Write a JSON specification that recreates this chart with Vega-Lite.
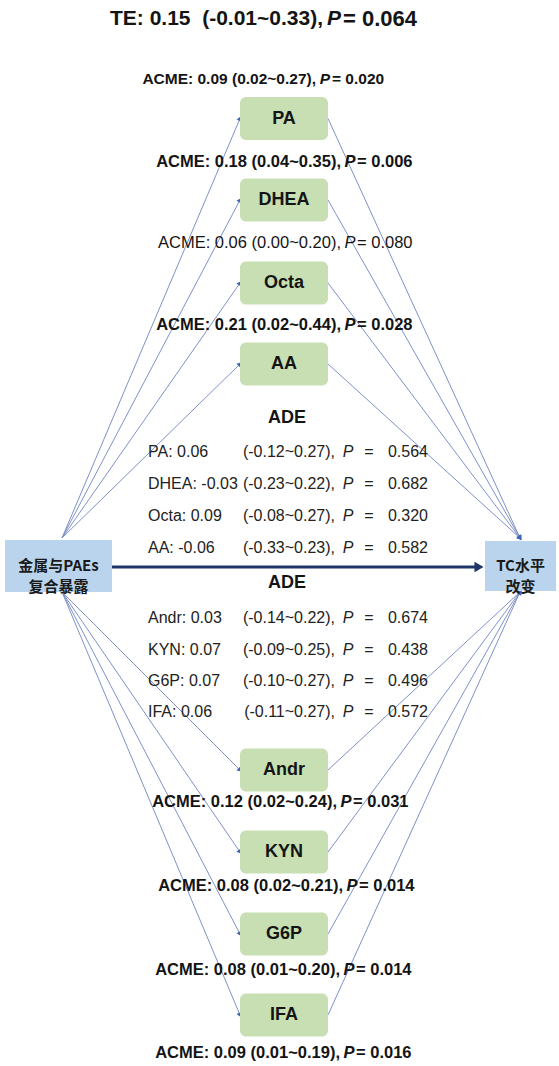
{
  "$schema": "https://vega.github.io/schema/vega-lite/v6.json",
  "width": 559,
  "height": 1066,
  "padding": 0,
  "autosize": {"type": "none"},
  "background": "white",
  "config": {"view": {"stroke": null}, "font": "Liberation Sans", "text": {"color": "#141414"}},
  "datasets": {
    "mediators": [
      {"name": "PA", "group": "upper", "y": 118.5, "acme": "0.09", "acmeCI": "(0.02~0.27)", "acmeP": "0.020", "ly": 79, "lx": 325, "ade": "0.06", "adeCI": "(-0.12~0.27)", "adeP": "0.564", "ay": 452},
      {"name": "DHEA", "group": "upper", "y": 200, "acme": "0.18", "acmeCI": "(0.04~0.35)", "acmeP": "0.006", "ly": 162, "lx": 350, "ade": "-0.03", "adeCI": "(-0.23~0.22)", "adeP": "0.682", "ay": 484},
      {"name": "Octa", "group": "upper", "y": 283, "acme": "0.06", "acmeCI": "(0.00~0.20)", "acmeP": "0.080", "ly": 243, "lx": 350, "ade": "0.09", "adeCI": "(-0.08~0.27)", "adeP": "0.320", "ay": 516},
      {"name": "AA", "group": "upper", "y": 364, "acme": "0.21", "acmeCI": "(0.02~0.44)", "acmeP": "0.028", "ly": 325, "lx": 350, "ade": "-0.06", "adeCI": "(-0.33~0.23)", "adeP": "0.582", "ay": 548},
      {"name": "Andr", "group": "lower", "y": 770, "acme": "0.12", "acmeCI": "(0.02~0.24)", "acmeP": "0.031", "ly": 802, "lx": 346, "ade": "0.03", "adeCI": "(-0.14~0.22)", "adeP": "0.674", "ay": 618},
      {"name": "KYN", "group": "lower", "y": 852, "acme": "0.08", "acmeCI": "(0.02~0.21)", "acmeP": "0.014", "ly": 886, "lx": 352, "ade": "0.07", "adeCI": "(-0.09~0.25)", "adeP": "0.438", "ay": 650},
      {"name": "G6P", "group": "lower", "y": 934, "acme": "0.08", "acmeCI": "(0.01~0.20)", "acmeP": "0.014", "ly": 970, "lx": 349, "ade": "0.07", "adeCI": "(-0.10~0.27)", "adeP": "0.496", "ay": 681},
      {"name": "IFA", "group": "lower", "y": 1015, "acme": "0.09", "acmeCI": "(0.01~0.19)", "acmeP": "0.016", "ly": 1053, "lx": 349, "ade": "0.06", "adeCI": "(-0.11~0.27)", "adeP": "0.572", "ay": 712}
    ],
    "nodes": [
      {"label": "金属与PAEs\n复合暴露", "x0": 5, "x1": 112, "y0": 540, "y1": 592},
      {"label": "TC水平\n改变", "x0": 485, "x1": 556, "y0": 541, "y1": 591}
    ],
    "total": [{"est": "0.15", "ci": "(-0.01~0.33)", "p": "0.064"}],
    "adeHeads": [{"group": "upper", "y": 418}, {"group": "lower", "y": 583}]
  },
  "layer": [
    {
      "data": {"name": "mediators"},
      "transform": [
        {"calculate": "datum.group === 'upper' ? 538 : 592", "as": "hubY"},
        {"calculate": "62", "as": "srcX"},
        {"calculate": "240", "as": "inX"},
        {"calculate": "328", "as": "outX"},
        {"calculate": "520", "as": "dstX"},
        {"calculate": "atan2(datum.y - datum.hubY, 240 - 62) * 180 / PI", "as": "angIn"},
        {"calculate": "atan2(datum.hubY - datum.y, 520 - 328) * 180 / PI", "as": "angOut"}
      ],
      "layer": [
        {
          "mark": {"type": "rule", "color": "#7f91c8", "strokeWidth": 1},
          "encoding": {
            "x": {"field": "srcX", "type": "quantitative", "scale": {"domain": [0, 559], "nice": false, "zero": false}, "axis": null},
            "y": {"field": "hubY", "type": "quantitative", "scale": {"domain": [0, 1066], "nice": false, "zero": false, "reverse": true}, "axis": null},
            "x2": {"field": "inX"},
            "y2": {"field": "y"}
          }
        },
        {
          "mark": {"type": "rule", "color": "#7f91c8", "strokeWidth": 1},
          "encoding": {
            "x": {"field": "outX", "type": "quantitative", "scale": {"domain": [0, 559], "nice": false, "zero": false}, "axis": null},
            "y": {"field": "y", "type": "quantitative", "scale": {"domain": [0, 1066], "nice": false, "zero": false, "reverse": true}, "axis": null},
            "x2": {"field": "dstX"},
            "y2": {"field": "hubY"}
          }
        },
        {
          "mark": {"type": "point", "shape": "triangle-right", "filled": true, "size": 30, "color": "#3f64b9", "opacity": 1},
          "encoding": {
            "x": {"field": "inX", "type": "quantitative", "scale": {"domain": [0, 559], "nice": false, "zero": false}, "axis": null},
            "y": {"field": "y", "type": "quantitative", "scale": {"domain": [0, 1066], "nice": false, "zero": false, "reverse": true}, "axis": null},
            "angle": {"field": "angIn", "type": "quantitative", "scale": null}
          }
        },
        {
          "mark": {"type": "point", "shape": "triangle-right", "filled": true, "size": 30, "color": "#3f64b9", "opacity": 1},
          "encoding": {
            "x": {"field": "dstX", "type": "quantitative", "scale": {"domain": [0, 559], "nice": false, "zero": false}, "axis": null},
            "y": {"field": "hubY", "type": "quantitative", "scale": {"domain": [0, 1066], "nice": false, "zero": false, "reverse": true}, "axis": null},
            "angle": {"field": "angOut", "type": "quantitative", "scale": null}
          }
        }
      ]
    },
    {
      "data": {"name": "total"},
      "transform": [
        {"calculate": "112", "as": "x0"},
        {"calculate": "476", "as": "x1"},
        {"calculate": "479", "as": "tipX"},
        {"calculate": "567", "as": "ay"},
        {"calculate": "334", "as": "px"},
        {"calculate": "19", "as": "ty"},
        {"calculate": "'TE: ' + datum.est + '\u00a0 ' + datum.ci + ','", "as": "pre"},
        {"calculate": "'= ' + datum.p", "as": "post"}
      ],
      "layer": [
        {
          "mark": {"type": "rule", "color": "#1f3768", "strokeWidth": 3},
          "encoding": {
            "x": {"field": "x0", "type": "quantitative", "scale": {"domain": [0, 559], "nice": false, "zero": false}, "axis": null},
            "y": {"field": "ay", "type": "quantitative", "scale": {"domain": [0, 1066], "nice": false, "zero": false, "reverse": true}, "axis": null},
            "x2": {"field": "x1"}
          }
        },
        {
          "mark": {"type": "point", "shape": "triangle-right", "filled": true, "size": 110, "color": "#1f3768", "opacity": 1},
          "encoding": {
            "x": {"field": "tipX", "type": "quantitative", "scale": {"domain": [0, 559], "nice": false, "zero": false}, "axis": null},
            "y": {"field": "ay", "type": "quantitative", "scale": {"domain": [0, 1066], "nice": false, "zero": false, "reverse": true}, "axis": null}
          }
        },
        {
          "mark": {"type": "text", "align": "right", "baseline": "middle", "dx": -11, "fontSize": 21, "fontWeight": "bold"},
          "encoding": {
            "x": {"field": "px", "type": "quantitative", "scale": {"domain": [0, 559], "nice": false, "zero": false}, "axis": null},
            "y": {"field": "ty", "type": "quantitative", "scale": {"domain": [0, 1066], "nice": false, "zero": false, "reverse": true}, "axis": null},
            "text": {"field": "pre"}
          }
        },
        {
          "mark": {"type": "text", "align": "center", "baseline": "middle", "fontSize": 21, "fontWeight": "bold", "fontStyle": "italic"},
          "encoding": {
            "x": {"field": "px", "type": "quantitative", "scale": {"domain": [0, 559], "nice": false, "zero": false}, "axis": null},
            "y": {"field": "ty", "type": "quantitative", "scale": {"domain": [0, 1066], "nice": false, "zero": false, "reverse": true}, "axis": null},
            "text": {"value": "P"}
          }
        },
        {
          "mark": {"type": "text", "align": "left", "baseline": "middle", "dx": 9, "fontSize": 22, "fontWeight": "bold"},
          "encoding": {
            "x": {"field": "px", "type": "quantitative", "scale": {"domain": [0, 559], "nice": false, "zero": false}, "axis": null},
            "y": {"field": "ty", "type": "quantitative", "scale": {"domain": [0, 1066], "nice": false, "zero": false, "reverse": true}, "axis": null},
            "text": {"field": "post"}
          }
        }
      ]
    },
    {
      "data": {"name": "nodes"},
      "transform": [{"calculate": "(datum.x0 + datum.x1) / 2", "as": "cx"}, {"calculate": "(datum.y0 + datum.y1) / 2", "as": "cy"}],
      "layer": [
        {
          "mark": {"type": "rect", "color": "#b9d4ec"},
          "encoding": {
            "x": {"field": "x0", "type": "quantitative", "scale": {"domain": [0, 559], "nice": false, "zero": false}, "axis": null},
            "x2": {"field": "x1"},
            "y": {"field": "y0", "type": "quantitative", "scale": {"domain": [0, 1066], "nice": false, "zero": false, "reverse": true}, "axis": null},
            "y2": {"field": "y1"}
          }
        },
        {
          "mark": {"type": "text", "align": "center", "baseline": "middle", "fontSize": 15, "fontWeight": "bold", "font": "Noto Sans CJK SC", "lineBreak": "\n", "lineHeight": 21, "color": "#1a1a1a"},
          "encoding": {
            "x": {"field": "cx", "type": "quantitative", "scale": {"domain": [0, 559], "nice": false, "zero": false}, "axis": null},
            "y": {"field": "cy", "type": "quantitative", "scale": {"domain": [0, 1066], "nice": false, "zero": false, "reverse": true}, "axis": null},
            "text": {"field": "label"}
          }
        }
      ]
    },
    {
      "data": {"name": "mediators"},
      "transform": [
        {"calculate": "240", "as": "bx0"},
        {"calculate": "328", "as": "bx1"},
        {"calculate": "284", "as": "bcx"}
      ],
      "layer": [
        {
          "mark": {"type": "rect", "color": "#c7dfb3", "cornerRadius": 6, "yOffset": -21.5, "y2Offset": 21.5},
          "encoding": {
            "x": {"field": "bx0", "type": "quantitative", "scale": {"domain": [0, 559], "nice": false, "zero": false}, "axis": null},
            "x2": {"field": "bx1"},
            "y": {"field": "y", "type": "quantitative", "scale": {"domain": [0, 1066], "nice": false, "zero": false, "reverse": true}, "axis": null},
            "y2": {"field": "y"}
          }
        },
        {
          "mark": {"type": "text", "align": "center", "baseline": "middle", "fontSize": 18, "fontWeight": "bold"},
          "encoding": {
            "x": {"field": "bcx", "type": "quantitative", "scale": {"domain": [0, 559], "nice": false, "zero": false}, "axis": null},
            "y": {"field": "y", "type": "quantitative", "scale": {"domain": [0, 1066], "nice": false, "zero": false, "reverse": true}, "axis": null},
            "text": {"field": "name"}
          }
        }
      ]
    },
    {
      "data": {"name": "mediators"},
      "transform": [
        {"calculate": "'ACME: ' + datum.acme + ' ' + datum.acmeCI + ','", "as": "pre"},
        {"calculate": "'= ' + datum.acmeP", "as": "post"}
      ],
      "layer": [
        {
          "transform": [{"filter": "toNumber(datum.acmeP) < 0.05"}],
          "layer": [
            {
              "mark": {"type": "text", "align": "right", "baseline": "middle", "dx": -9, "fontWeight": "bold"},
              "encoding": {
                "x": {"field": "lx", "type": "quantitative", "scale": {"domain": [0, 559], "nice": false, "zero": false}, "axis": null},
                "y": {"field": "ly", "type": "quantitative", "scale": {"domain": [0, 1066], "nice": false, "zero": false, "reverse": true}, "axis": null},
                "size": {"condition": {"test": "datum.name === 'PA'", "value": 15.5}, "value": 16.5},
                "text": {"field": "pre"}
              }
            },
            {
              "mark": {"type": "text", "align": "center", "baseline": "middle", "fontWeight": "bold", "fontStyle": "italic"},
              "encoding": {
                "x": {"field": "lx", "type": "quantitative", "scale": {"domain": [0, 559], "nice": false, "zero": false}, "axis": null},
                "y": {"field": "ly", "type": "quantitative", "scale": {"domain": [0, 1066], "nice": false, "zero": false, "reverse": true}, "axis": null},
                "size": {"condition": {"test": "datum.name === 'PA'", "value": 15.5}, "value": 16.5},
                "text": {"value": "P"}
              }
            },
            {
              "mark": {"type": "text", "align": "left", "baseline": "middle", "dx": 7, "fontWeight": "bold"},
              "encoding": {
                "x": {"field": "lx", "type": "quantitative", "scale": {"domain": [0, 559], "nice": false, "zero": false}, "axis": null},
                "y": {"field": "ly", "type": "quantitative", "scale": {"domain": [0, 1066], "nice": false, "zero": false, "reverse": true}, "axis": null},
                "size": {"condition": {"test": "datum.name === 'PA'", "value": 15.5}, "value": 16.5},
                "text": {"field": "post"}
              }
            }
          ]
        },
        {
          "transform": [{"filter": "toNumber(datum.acmeP) >= 0.05"}],
          "layer": [
            {
              "mark": {"type": "text", "align": "right", "baseline": "middle", "dx": -9, "fontSize": 16.5},
              "encoding": {
                "x": {"field": "lx", "type": "quantitative", "scale": {"domain": [0, 559], "nice": false, "zero": false}, "axis": null},
                "y": {"field": "ly", "type": "quantitative", "scale": {"domain": [0, 1066], "nice": false, "zero": false, "reverse": true}, "axis": null},
                "text": {"field": "pre"}
              }
            },
            {
              "mark": {"type": "text", "align": "center", "baseline": "middle", "fontSize": 16.5, "fontStyle": "italic"},
              "encoding": {
                "x": {"field": "lx", "type": "quantitative", "scale": {"domain": [0, 559], "nice": false, "zero": false}, "axis": null},
                "y": {"field": "ly", "type": "quantitative", "scale": {"domain": [0, 1066], "nice": false, "zero": false, "reverse": true}, "axis": null},
                "text": {"value": "P"}
              }
            },
            {
              "mark": {"type": "text", "align": "left", "baseline": "middle", "dx": 7, "fontSize": 16.5},
              "encoding": {
                "x": {"field": "lx", "type": "quantitative", "scale": {"domain": [0, 559], "nice": false, "zero": false}, "axis": null},
                "y": {"field": "ly", "type": "quantitative", "scale": {"domain": [0, 1066], "nice": false, "zero": false, "reverse": true}, "axis": null},
                "text": {"field": "post"}
              }
            }
          ]
        }
      ]
    },
    {
      "data": {"name": "adeHeads"},
      "transform": [{"calculate": "287", "as": "hx"}],
      "mark": {"type": "text", "align": "center", "baseline": "middle", "fontSize": 18, "fontWeight": "bold"},
      "encoding": {
        "x": {"field": "hx", "type": "quantitative", "scale": {"domain": [0, 559], "nice": false, "zero": false}, "axis": null},
        "y": {"field": "y", "type": "quantitative", "scale": {"domain": [0, 1066], "nice": false, "zero": false, "reverse": true}, "axis": null},
        "text": {"value": "ADE"}
      }
    },
    {
      "data": {"name": "mediators"},
      "transform": [
        {"calculate": "datum.name + ': ' + datum.ade", "as": "lead"},
        {"calculate": "datum.adeCI + ','", "as": "ci"},
        {"calculate": "148", "as": "c1"},
        {"calculate": "335", "as": "c2"},
        {"calculate": "348", "as": "c3"},
        {"calculate": "369", "as": "c4"},
        {"calculate": "428", "as": "c5"}
      ],
      "layer": [
        {
          "mark": {"type": "text", "align": "left", "baseline": "middle", "fontSize": 16, "color": "#222222"},
          "encoding": {
            "x": {"field": "c1", "type": "quantitative", "scale": {"domain": [0, 559], "nice": false, "zero": false}, "axis": null},
            "y": {"field": "ay", "type": "quantitative", "scale": {"domain": [0, 1066], "nice": false, "zero": false, "reverse": true}, "axis": null},
            "text": {"field": "lead"}
          }
        },
        {
          "mark": {"type": "text", "align": "right", "baseline": "middle", "fontSize": 16, "color": "#222222"},
          "encoding": {
            "x": {"field": "c2", "type": "quantitative", "scale": {"domain": [0, 559], "nice": false, "zero": false}, "axis": null},
            "y": {"field": "ay", "type": "quantitative", "scale": {"domain": [0, 1066], "nice": false, "zero": false, "reverse": true}, "axis": null},
            "text": {"field": "ci"}
          }
        },
        {
          "mark": {"type": "text", "align": "center", "baseline": "middle", "fontSize": 16, "fontStyle": "italic", "color": "#222222"},
          "encoding": {
            "x": {"field": "c3", "type": "quantitative", "scale": {"domain": [0, 559], "nice": false, "zero": false}, "axis": null},
            "y": {"field": "ay", "type": "quantitative", "scale": {"domain": [0, 1066], "nice": false, "zero": false, "reverse": true}, "axis": null},
            "text": {"value": "P"}
          }
        },
        {
          "mark": {"type": "text", "align": "center", "baseline": "middle", "fontSize": 16, "color": "#222222"},
          "encoding": {
            "x": {"field": "c4", "type": "quantitative", "scale": {"domain": [0, 559], "nice": false, "zero": false}, "axis": null},
            "y": {"field": "ay", "type": "quantitative", "scale": {"domain": [0, 1066], "nice": false, "zero": false, "reverse": true}, "axis": null},
            "text": {"value": "="}
          }
        },
        {
          "mark": {"type": "text", "align": "right", "baseline": "middle", "fontSize": 16, "color": "#222222"},
          "encoding": {
            "x": {"field": "c5", "type": "quantitative", "scale": {"domain": [0, 559], "nice": false, "zero": false}, "axis": null},
            "y": {"field": "ay", "type": "quantitative", "scale": {"domain": [0, 1066], "nice": false, "zero": false, "reverse": true}, "axis": null},
            "text": {"field": "adeP"}
          }
        }
      ]
    }
  ]
}
